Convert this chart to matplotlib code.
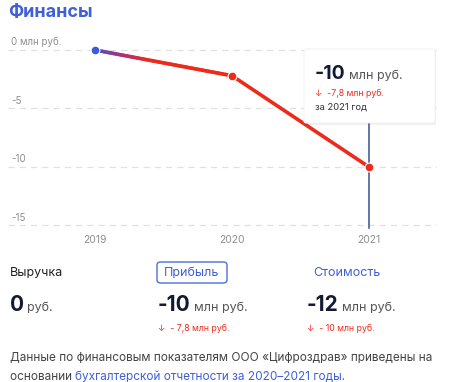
import numpy as np
import matplotlib
matplotlib.use("Agg")
import matplotlib.pyplot as plt
from matplotlib.collections import LineCollection
from matplotlib.patches import FancyBboxPatch
from matplotlib.colors import LinearSegmentedColormap

plt.rcParams['font.family'] = ['Inter', 'DejaVu Sans']

# data
years = [2019, 2020, 2021]
profit = [0.0, -2.2, -10.0]
y_ticks = [0, -5, -10, -15]
y_tick_labels = ["0 млн руб.", "-5", "-10", "-15"]

summary_titles = ["Выручка", "Прибыль", "Стоимость"]
summary_values = ["0", "-10", "-12"]
summary_units = ["руб.", "млн руб.", "млн руб."]
summary_changes = [None, "↓  - 7,8 млн руб.", "↓  - 10 млн руб."]

BLUE = "#3f60d8"
RED = "#ee2a1b"
DARK = "#141a33"
GREY = "#8f8f8f"

W, H = 450, 382
fig = plt.figure(figsize=(W / 100, H / 100), dpi=100)


def fx(x):
    return x / W


def fy(y):
    return 1 - y / H


# chart area: pixel x 8..437, y 40..232
ax = fig.add_axes([fx(8), fy(232), (437 - 8) / W, (232 - 40) / H])
ax.set_xlim(2018.365, 2021.496)
ax.set_ylim(-15.56, 0.855)
for s in ax.spines.values():
    s.set_visible(False)
ax.set_yticks([])
ax.set_xticks(years)
ax.set_xticklabels([str(y) for y in years], color=GREY, fontsize=7.5)
ax.tick_params(axis='x', length=0, pad=2)

for t, lab in zip(y_ticks, y_tick_labels):
    ax.axhline(t, color="#e0e0e0", lw=0.9, ls=(0, (5, 4)), zorder=1)
    ax.text(2018.39, t + 0.25, lab, color=GREY, fontsize=7, va='bottom', ha='left')

# hover line at last year
ax.plot([years[-1], years[-1]], [ax.get_ylim()[0] + 0.3, 0], color="#34548f", lw=1.1, zorder=2)

# line, first segment with blue->red gradient
ax.plot(years[1:], profit[1:], color=RED, lw=2.6, zorder=3, solid_capstyle='round')
xs = np.linspace(years[0], years[1], 60)
ys = np.linspace(profit[0], profit[1], 60)
pts = np.array([xs, ys]).T.reshape(-1, 1, 2)
segs = np.concatenate([pts[:-1], pts[1:]], axis=1)
cmap = LinearSegmentedColormap.from_list("g", ["#4a50c8", "#b0307a", RED, RED, RED, RED])
lc = LineCollection(segs, cmap=cmap, lw=2.6, zorder=3, capstyle='round')
lc.set_array(np.linspace(0, 1, len(segs)))
ax.add_collection(lc)

ax.scatter([years[0]], [profit[0]], s=40, color="#3b5bdb", zorder=4, edgecolor='white', linewidth=0.8)
ax.scatter(years[1:], profit[1:], s=40, color=RED, zorder=4, edgecolor='white', linewidth=0.8)

# title
fig.text(fx(8), fy(13), "Финансы", color=BLUE, fontsize=13, fontweight='bold', va='center', ha='left')

renderer = fig.canvas.get_renderer()


def run(x, y, parts):
    # parts: list of (text, kwargs, gap after)
    for txt, kw, gap in parts:
        t = fig.text(fx(x), fy(y), txt, va='baseline', ha='left', **kw)
        bb = t.get_window_extent(renderer)
        x += bb.width + gap


# tooltip
shadow = FancyBboxPatch((fx(305), fy(125)), fx(131), (125 - 49) / H,
                        boxstyle="round,pad=0,rounding_size=0.004",
                        transform=fig.transFigure, fc="#000000", ec='none', alpha=0.06, zorder=5)
fig.patches.append(shadow)
tip = FancyBboxPatch((fx(304), fy(123)), fx(131), (123 - 49) / H,
                     boxstyle="round,pad=0,rounding_size=0.004",
                     transform=fig.transFigure, fc="white", ec="#f0f0f0", lw=0.6, zorder=6)
fig.patches.append(tip)
run(315, 79, [("-10", dict(fontsize=14, fontweight='bold', color=DARK, zorder=7), 3),
              ("млн руб.", dict(fontsize=9, color="#555555", zorder=7), 0)])
fig.text(fx(315), fy(93), "↓  -7,8 млн руб.", fontsize=6.3, color=RED, va='center', ha='left', zorder=7)
fig.text(fx(315), fy(107), "за 2021 год", fontsize=6.8, color="#333333", va='center', ha='left', zorder=7)

# summary block
cols = [10, 158, 307]
for i, x0 in enumerate(cols):
    if i == 1:
        box = FancyBboxPatch((fx(157), fy(283)), fx(70), (283 - 262) / H,
                             boxstyle="round,pad=0,rounding_size=0.008",
                             transform=fig.transFigure, fc="white", ec="#4a6ee0", lw=1.0)
        fig.patches.append(box)
        fig.text(fx(192), fy(273), summary_titles[i], fontsize=9, color=BLUE, va='center', ha='center')
    elif i == 2:
        fig.text(fx(347), fy(273), summary_titles[i], fontsize=9, color=BLUE, va='center', ha='center')
    else:
        fig.text(fx(x0), fy(273), summary_titles[i], fontsize=9, color="#222222", va='center', ha='left')
    run(x0, 311, [(summary_values[i], dict(fontsize=15, fontweight='bold', color=DARK), 3),
                  (summary_units[i], dict(fontsize=9, color="#555555"), 0)])
    if summary_changes[i]:
        fig.text(fx(x0), fy(328), summary_changes[i], fontsize=6.3, color=RED, va='center', ha='left')

# footer
fig.text(fx(10), fy(358), "Данные по финансовым показателям ООО «Цифроздрав» приведены на",
         fontsize=8.5, color="#444444", va='center', ha='left')
run(10, 380, [("основании ", dict(fontsize=8.5, color="#444444"), 0),
              ("бухгалтерской отчетности за 2020–2021 годы.", dict(fontsize=8.5, color=BLUE), 0)])

fig.savefig("out.png", dpi=100)
